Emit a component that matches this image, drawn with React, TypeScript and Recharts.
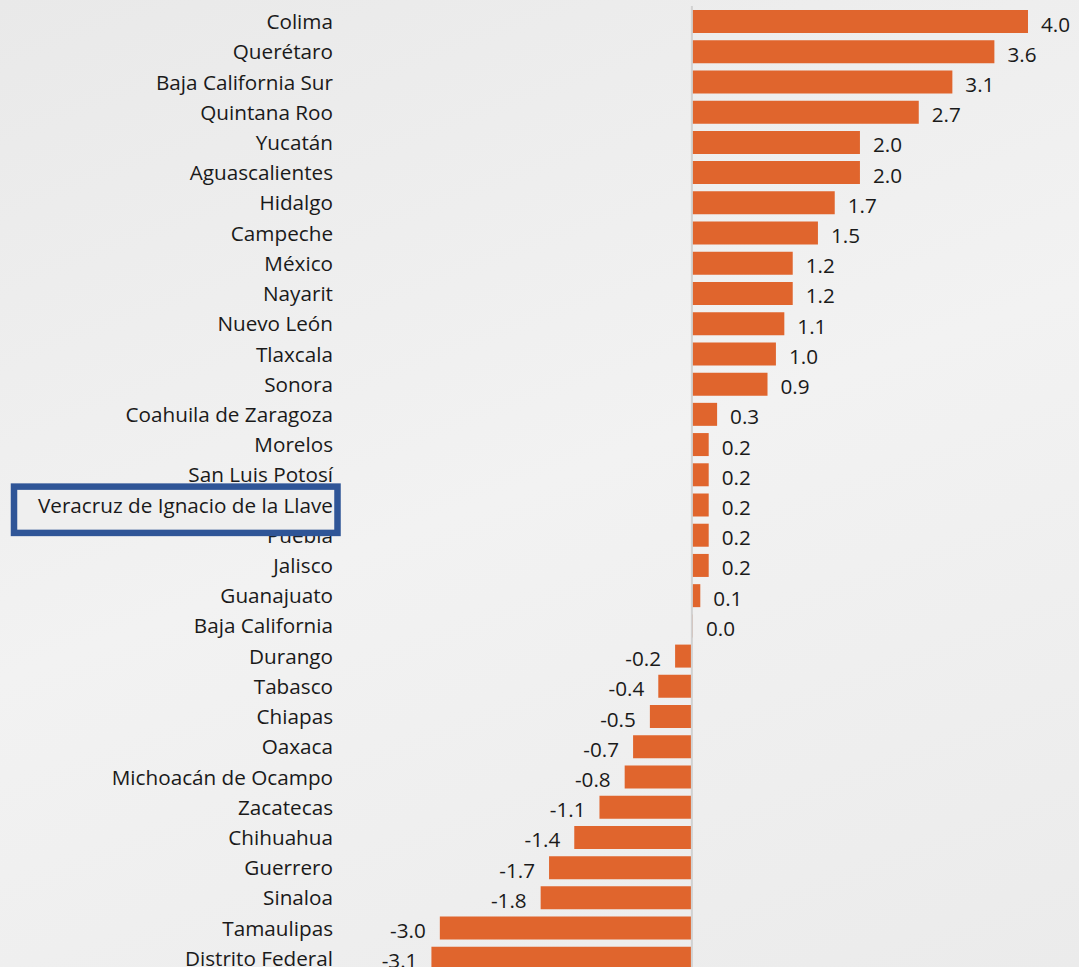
import { BarChart, Bar, XAxis, YAxis, LabelList, ReferenceLine } from 'recharts'

// top-to-bottom as shown in the chart
const states = [
  'Colima', 'Querétaro', 'Baja California Sur', 'Quintana Roo', 'Yucatán', 'Aguascalientes',
  'Hidalgo', 'Campeche', 'México', 'Nayarit', 'Nuevo León', 'Tlaxcala', 'Sonora',
  'Coahuila de Zaragoza', 'Morelos', 'San Luis Potosí', 'Veracruz de Ignacio de la Llave',
  'Puebla', 'Jalisco', 'Guanajuato', 'Baja California', 'Durango', 'Tabasco', 'Chiapas',
  'Oaxaca', 'Michoacán de Ocampo', 'Zacatecas', 'Chihuahua', 'Guerrero', 'Sinaloa',
  'Tamaulipas', 'Distrito Federal',
]
const values = [
  4.0, 3.6, 3.1, 2.7, 2.0, 2.0, 1.7, 1.5, 1.2, 1.2, 1.1, 1.0, 0.9, 0.3, 0.2, 0.2, 0.2,
  0.2, 0.2, 0.1, 0.0, -0.2, -0.4, -0.5, -0.7, -0.8, -1.1, -1.4, -1.7, -1.8, -3.0, -3.1,
]
const highlighted = 'Veracruz de Ignacio de la Llave'

// reversed order + reversed axis, so the highlight box is drawn after "Puebla"
const data = states.map((s, i) => ({ state: s, value: values[i] })).reverse()

const FONT = '"Open Sans", sans-serif'
const FS = 20.7
const BAR = '#E0652D'
const TEXT = '#1a1a1a'

function StateTick(props: any) {
  const { x, y, payload } = props
  const hl = payload.value === highlighted
  return (
    <g>
      {hl && (
        <rect
          x={x - 319}
          y={y - 18}
          width={323.5}
          height={46.3}
          fill="#efefef"
          stroke="#2F5597"
          strokeWidth={6.5}
        />
      )}
      <text x={x} y={y} textAnchor="end" dominantBaseline="central" fontSize={FS} fill={TEXT} fontFamily={FONT}>
        {payload.value}
      </text>
    </g>
  )
}

function ValueLabel(props: any) {
  const { x, y, width, height, value } = props
  const neg = value < 0
  const lx = neg ? Math.min(x, x + width) - 14 : Math.max(x, x + width) + 13
  return (
    <text
      x={lx}
      y={y + height / 2 + 2}
      textAnchor={neg ? 'end' : 'start'}
      dominantBaseline="central"
      fontSize={FS}
      fill={TEXT}
      fontFamily={FONT}
    >
      {Number(value).toFixed(1)}
    </text>
  )
}

export default function App() {
  return (
    <div
      style={{
        position: 'absolute',
        top: 0,
        left: 0,
        width: 1079,
        height: 967,
        overflow: 'hidden',
        background: 'linear-gradient(160deg, #e9e9e9 0%, #f2f2f2 50%, #ebebeb 100%)',
      }}
    >
      <BarChart
        width={1079}
        height={980}
        data={data}
        layout="vertical"
        margin={{ top: 6, right: 9, bottom: 7, left: 0 }}
        barSize={23}
      >
        <XAxis type="number" domain={[-4.2, 4.5]} hide />
        <YAxis
          type="category"
          dataKey="state"
          reversed
          width={339}
          axisLine={false}
          tickLine={false}
          tickSize={6}
          tickMargin={0}
          interval={0}
          tick={<StateTick />}
        />
        <ReferenceLine x={0} stroke="#d2d2d2" strokeWidth={2} />
        <Bar dataKey="value" fill={BAR} minPointSize={1} isAnimationActive={false}>
          <LabelList dataKey="value" content={<ValueLabel />} />
        </Bar>
      </BarChart>
    </div>
  )
}
